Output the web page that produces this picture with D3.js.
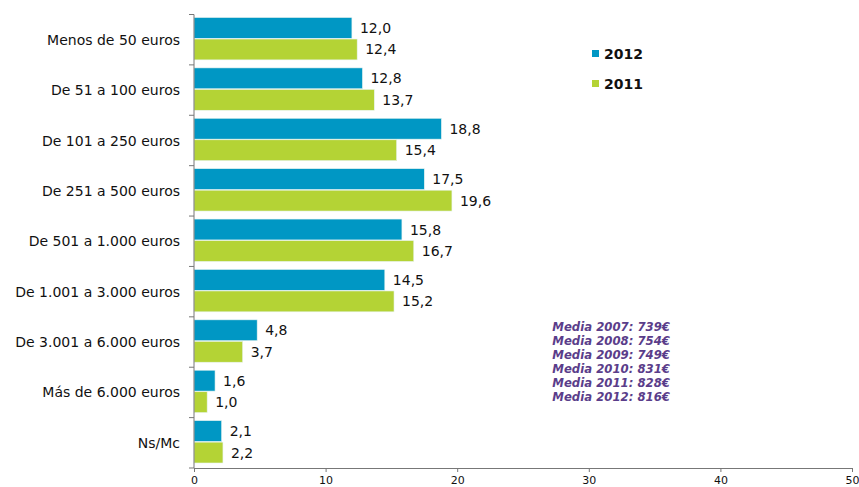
<!DOCTYPE html>
<html>
<head>
<meta charset="utf-8">
<script src="https://cdn.jsdelivr.net/npm/d3@7"></script>
<style>
  html, body { margin: 0; padding: 0; background: #fff; }
  svg { display: block; font-family: "DejaVu Sans", Verdana, sans-serif; }
</style>
</head>
<body>
<svg id="chart" width="859" height="487"></svg>
<script>
// Spending brackets and shares (%) for each year
const categories = [
  "Menos de 50 euros", "De 51 a 100 euros", "De 101 a 250 euros",
  "De 251 a 500 euros", "De 501 a 1.000 euros", "De 1.001 a 3.000 euros",
  "De 3.001 a 6.000 euros", "Más de 6.000 euros", "Ns/Mc"
];
const values2012 = [12.0, 12.8, 18.8, 17.5, 15.8, 14.5, 4.8, 1.6, 2.1];
const values2011 = [12.4, 13.7, 15.4, 19.6, 16.7, 15.2, 3.7, 1.0, 2.2];
const seriesNames = ["2012", "2011"];
const seriesColors = ["#0097c4", "#b4d335"];
const xTicks = [0, 10, 20, 30, 40, 50];
const averages = [
  "Media 2007: 739€", "Media 2008: 754€", "Media 2009: 749€",
  "Media 2010: 831€", "Media 2011: 828€", "Media 2012: 816€"
];

const svg = d3.select("#chart");
const x = d3.scaleLinear().domain([0, 50]).range([194, 852]);
const y = d3.scaleBand().domain(categories).range([14.5, 468]);
const inner = d3.scaleBand().domain(seriesNames).range([3, y.bandwidth() - 5]).paddingInner(0.03);

const series = [values2012, values2011];
const fmt = v => v.toFixed(1).replace(".", ",");

// Bars
series.forEach((vals, si) => {
  const g = svg.append("g");
  g.selectAll("rect").data(categories).join("rect")
    .attr("x", x(0))
    .attr("y", c => y(c) + inner(seriesNames[si]))
    .attr("width", (c, i) => x(vals[i]) - x(0))
    .attr("height", inner.bandwidth())
    .attr("fill", seriesColors[si])
    .attr("stroke", "#e8f4f0")
    .attr("stroke-width", 0.6);
  g.selectAll("text").data(categories).join("text")
    .attr("x", (c, i) => x(vals[i]) + 8)
    .attr("y", c => y(c) + inner(seriesNames[si]) + inner.bandwidth() / 2)
    .attr("dy", "0.36em")
    .attr("font-size", 14)
    .attr("fill", "#111")
    .text((c, i) => fmt(vals[i]));
});

// Category axis
const yAxis = svg.append("g").attr("transform", `translate(${x(0)},0)`);
yAxis.append("line").attr("x1", 0).attr("x2", 0).attr("y1", y.range()[0]).attr("y2", y.range()[1])
  .attr("stroke", "#777");
yAxis.selectAll("line.tick").data(d3.range(categories.length + 1)).join("line")
  .attr("class", "tick")
  .attr("x1", -5).attr("x2", 0)
  .attr("y1", i => y.range()[0] + i * y.step())
  .attr("y2", i => y.range()[0] + i * y.step())
  .attr("stroke", "#777");
yAxis.selectAll("text").data(categories).join("text")
  .attr("x", -14)
  .attr("y", c => y(c) + y.bandwidth() / 2)
  .attr("dy", "0.36em")
  .attr("text-anchor", "end")
  .attr("font-size", 14)
  .attr("fill", "#111")
  .text(c => c);

// Value axis
const xAxis = svg.append("g")
  .attr("transform", `translate(0,${y.range()[1]})`)
  .call(d3.axisBottom(x).tickValues(xTicks).tickSize(4).tickPadding(4).tickFormat(d3.format("d")));
xAxis.select(".domain").attr("stroke", "#777");
xAxis.selectAll(".tick line").attr("stroke", "#777");
xAxis.selectAll(".tick text").attr("font-size", 11).attr("fill", "#111")
  .attr("font-family", "DejaVu Sans, sans-serif");

// Legend
const legend = svg.append("g");
seriesNames.forEach((name, i) => {
  const ly = 54 + i * 30;
  legend.append("rect").attr("x", 592).attr("y", ly - 4).attr("width", 7).attr("height", 7)
    .attr("fill", seriesColors[i]);
  legend.append("text").attr("x", 604).attr("y", ly).attr("dy", "0.36em")
    .attr("font-size", 14).attr("font-weight", "bold").attr("fill", "#111").text(name);
});

// Yearly averages note
svg.append("g").selectAll("text").data(averages).join("text")
  .attr("x", 670)
  .attr("y", (d, i) => 327 + i * 14)
  .attr("dy", "0.36em")
  .attr("text-anchor", "end")
  .attr("font-size", 11.7)
  .attr("font-weight", "bold")
  .attr("font-style", "italic")
  .attr("fill", "#5a3d8a")
  .text(d => d);
</script>
</body>
</html>
